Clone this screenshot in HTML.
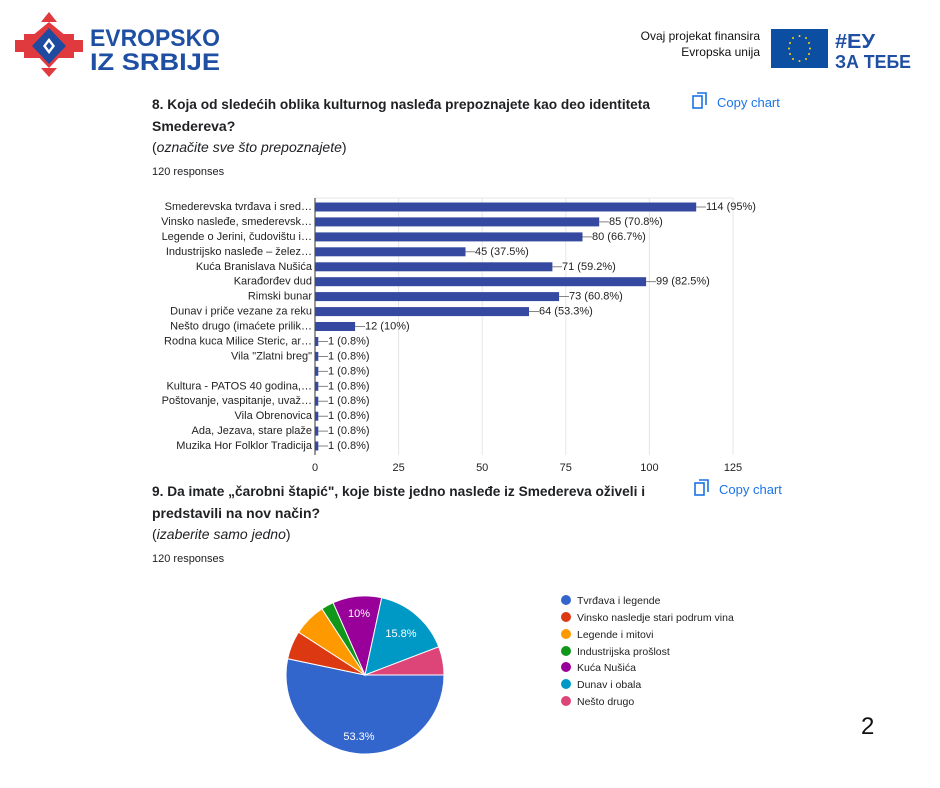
<!DOCTYPE html>
<html><head><meta charset="utf-8"><style>
html,body{margin:0;padding:0;background:#fff;}
svg{display:block;font-family:"Liberation Sans",sans-serif;}
</style></head><body>
<svg width="940" height="788" viewBox="0 0 940 788" xmlns="http://www.w3.org/2000/svg">
<g>
<polygon points="49,12 57,22 41,22" fill="#e03a3e"/>
<polygon points="49,22 66,36 49,50 32,36" fill="#e03a3e"/>
<polygon points="24,34 40,34 40,58 24,58" fill="#e03a3e"/>
<polygon points="58,34 74,34 74,58 58,58" fill="#e03a3e"/>
<polygon points="15,40 24,40 24,52 15,52" fill="#e03a3e"/>
<polygon points="74,40 83,40 83,52 74,52" fill="#e03a3e"/>
<polygon points="49,42 70,46 49,68 28,46" fill="#e03a3e"/>
<polygon points="41,68 57,68 49,77" fill="#e03a3e"/>
<polygon points="49,28 66,46 49,64 32,46" fill="#1e4aa0"/>
<polygon points="49,38 55,46 49,54 43,46" fill="#fff"/>
<polygon points="49,42 52,46 49,50 46,46" fill="#1e4aa0"/>
</g>
<text x="90" y="46" font-size="24" font-weight="bold" fill="#1f4fa3" textLength="130" lengthAdjust="spacingAndGlyphs">EVROPSKO</text>
<text x="90" y="70" font-size="24" font-weight="bold" fill="#1f4fa3" textLength="130" lengthAdjust="spacingAndGlyphs">IZ SRBIJE</text>
<text x="760" y="40" font-size="12" fill="#111" text-anchor="end">Ovaj projekat finansira</text>
<text x="760" y="56" font-size="12" fill="#111" text-anchor="end">Evropska unija</text>
<rect x="771" y="29" width="57" height="39" fill="#0b4ea2"/>
<g fill="#ffd500">
<circle cx="799.5" cy="36" r="1"/><circle cx="806" cy="38" r="1"/><circle cx="809" cy="43" r="1"/><circle cx="810" cy="48.5" r="1"/><circle cx="809" cy="54" r="1"/><circle cx="806" cy="59" r="1"/><circle cx="799.5" cy="61" r="1"/><circle cx="793" cy="59" r="1"/><circle cx="790" cy="54" r="1"/><circle cx="789" cy="48.5" r="1"/><circle cx="790" cy="43" r="1"/><circle cx="793" cy="38" r="1"/>
</g>
<text x="835" y="48" font-size="20" font-weight="bold" fill="#1f4fa3" textLength="40" lengthAdjust="spacingAndGlyphs">#EУ</text>
<text x="835" y="68" font-size="18" font-weight="bold" fill="#1f4fa3" textLength="76" lengthAdjust="spacingAndGlyphs">ЗА ТЕБЕ</text>

<text x="152" y="109" font-size="14" font-weight="bold" fill="#202124" textLength="498" lengthAdjust="spacingAndGlyphs">8. Koja od sledećih oblika kulturnog nasleđa prepoznajete kao deo identiteta</text>
<text x="152" y="131" font-size="14" font-weight="bold" fill="#202124">Smedereva?</text>
<text x="152" y="152" font-size="14" fill="#202124">(<tspan font-style="italic">označite sve što prepoznajete</tspan>)</text>
<text x="152" y="175" font-size="11" fill="#202124">120 responses</text>
<g fill="none" stroke="#1a73e8" stroke-width="1.6">
<rect x="693" y="96" width="9" height="12"/><path d="M697,93 h9 v12"/>
</g>
<text x="717" y="107" font-size="13" fill="#1a73e8">Copy chart</text>

<g stroke="#e6e6e6" stroke-width="1">
<line x1="398.6" y1="198" x2="398.6" y2="455"/>
<line x1="482.2" y1="198" x2="482.2" y2="455"/>
<line x1="565.8" y1="198" x2="565.8" y2="455"/>
<line x1="649.4" y1="198" x2="649.4" y2="455"/>
<line x1="733" y1="198" x2="733" y2="455"/>
<line x1="315" y1="198" x2="733" y2="198"/>
</g>
<line x1="315" y1="198" x2="315" y2="455" stroke="#333" stroke-width="1"/>
<g font-size="11" fill="#222" text-anchor="middle">
<text x="315" y="471">0</text><text x="398.6" y="471">25</text><text x="482.2" y="471">50</text><text x="565.8" y="471">75</text><text x="649.4" y="471">100</text><text x="733" y="471">125</text>
</g>
<g fill="#3649a0">
<rect x="315" y="202.5" width="381.2" height="9"/>
<rect x="315" y="217.4" width="284.2" height="9"/>
<rect x="315" y="232.4" width="267.5" height="9"/>
<rect x="315" y="247.3" width="150.5" height="9"/>
<rect x="315" y="262.3" width="237.4" height="9"/>
<rect x="315" y="277.2" width="331.1" height="9"/>
<rect x="315" y="292.1" width="244.1" height="9"/>
<rect x="315" y="307.1" width="214.0" height="9"/>
<rect x="315" y="322" width="40.1" height="9"/>
<rect x="315" y="337" width="3.3" height="9"/>
<rect x="315" y="351.9" width="3.3" height="9"/>
<rect x="315" y="366.8" width="3.3" height="9"/>
<rect x="315" y="381.8" width="3.3" height="9"/>
<rect x="315" y="396.7" width="3.3" height="9"/>
<rect x="315" y="411.7" width="3.3" height="9"/>
<rect x="315" y="426.6" width="3.3" height="9"/>
<rect x="315" y="441.5" width="3.3" height="9"/>
</g>
<g stroke="#666" stroke-width="0.8">
<line x1="696.2" y1="207" x2="706" y2="207"/>
<line x1="599.2" y1="221.9" x2="609" y2="221.9"/>
<line x1="582.5" y1="236.9" x2="592" y2="236.9"/>
<line x1="465.5" y1="251.8" x2="475" y2="251.8"/>
<line x1="552.4" y1="266.8" x2="562" y2="266.8"/>
<line x1="646.1" y1="281.7" x2="656" y2="281.7"/>
<line x1="559.1" y1="296.6" x2="569" y2="296.6"/>
<line x1="529" y1="311.6" x2="539" y2="311.6"/>
<line x1="355.1" y1="326.5" x2="365" y2="326.5"/>
<line x1="318.3" y1="341.5" x2="328" y2="341.5"/>
<line x1="318.3" y1="356.4" x2="328" y2="356.4"/>
<line x1="318.3" y1="371.3" x2="328" y2="371.3"/>
<line x1="318.3" y1="386.3" x2="328" y2="386.3"/>
<line x1="318.3" y1="401.2" x2="328" y2="401.2"/>
<line x1="318.3" y1="416.2" x2="328" y2="416.2"/>
<line x1="318.3" y1="431.1" x2="328" y2="431.1"/>
<line x1="318.3" y1="446" x2="328" y2="446"/>
</g>
<g font-size="11" fill="#222" dominant-baseline="central">
<text x="706" y="207">114 (95%)</text>
<text x="609" y="221.9">85 (70.8%)</text>
<text x="592" y="236.9">80 (66.7%)</text>
<text x="475" y="251.8">45 (37.5%)</text>
<text x="562" y="266.8">71 (59.2%)</text>
<text x="656" y="281.7">99 (82.5%)</text>
<text x="569" y="296.6">73 (60.8%)</text>
<text x="539" y="311.6">64 (53.3%)</text>
<text x="365" y="326.5">12 (10%)</text>
<text x="328" y="341.5">1 (0.8%)</text>
<text x="328" y="356.4">1 (0.8%)</text>
<text x="328" y="371.3">1 (0.8%)</text>
<text x="328" y="386.3">1 (0.8%)</text>
<text x="328" y="401.2">1 (0.8%)</text>
<text x="328" y="416.2">1 (0.8%)</text>
<text x="328" y="431.1">1 (0.8%)</text>
<text x="328" y="446">1 (0.8%)</text>
</g>
<g font-size="11" fill="#222" text-anchor="end" dominant-baseline="central">
<text x="312" y="207">Smederevska tvrđava i sred…</text>
<text x="312" y="221.9">Vinsko nasleđe, smederevsk…</text>
<text x="312" y="236.9">Legende o Jerini, čudovištu i…</text>
<text x="312" y="251.8">Industrijsko nasleđe – želez…</text>
<text x="312" y="266.8">Kuća Branislava Nušića</text>
<text x="312" y="281.7">Karađorđev dud</text>
<text x="312" y="296.6">Rimski bunar</text>
<text x="312" y="311.6">Dunav i priče vezane za reku</text>
<text x="312" y="326.5">Nešto drugo (imaćete prilik…</text>
<text x="312" y="341.5">Rodna kuca Milice Steric, ar…</text>
<text x="312" y="356.4">Vila "Zlatni breg"</text>
<text x="312" y="386.3">Kultura - PATOS 40 godina,…</text>
<text x="312" y="401.2">Poštovanje, vaspitanje, uvaž…</text>
<text x="312" y="416.2">Vila Obrenovica</text>
<text x="312" y="431.1">Ada, Jezava, stare plaže</text>
<text x="312" y="446">Muzika Hor Folklor Tradicija</text>
</g>

<text x="152" y="496" font-size="14" font-weight="bold" fill="#202124" textLength="493" lengthAdjust="spacingAndGlyphs">9. Da imate „čarobni štapić", koje biste jedno nasleđe iz Smedereva oživeli i</text>
<text x="152" y="518" font-size="14" font-weight="bold" fill="#202124">predstavili na nov način?</text>
<text x="152" y="539" font-size="14" fill="#202124">(<tspan font-style="italic">izaberite samo jedno</tspan>)</text>
<text x="152" y="562" font-size="11" fill="#202124">120 responses</text>
<g fill="none" stroke="#1a73e8" stroke-width="1.6">
<rect x="695" y="483" width="9" height="12"/><path d="M699,480 h9 v12"/>
</g>
<text x="719" y="494" font-size="13" fill="#1a73e8">Copy chart</text>

<g stroke="#fff" stroke-width="1">
<path d="M365,675 L444,675 A79,79 0 1 1 287.7,658.7 Z" fill="#3366cc"/>
<path d="M365,675 L287.7,658.7 A79,79 0 0 1 298.6,632.2 Z" fill="#dc3912"/>
<path d="M365,675 L298.6,632.2 A79,79 0 0 1 321.9,608.8 Z" fill="#ff9900"/>
<path d="M365,675 L321.9,608.8 A79,79 0 0 1 333.1,602.7 Z" fill="#109618"/>
<path d="M365,675 L333.1,602.7 A79,79 0 0 1 381.7,597.8 Z" fill="#990099"/>
<path d="M365,675 L381.7,597.8 A79,79 0 0 1 438.8,646.8 Z" fill="#0099c6"/>
<path d="M365,675 L438.8,646.8 A79,79 0 0 1 444,675 Z" fill="#dd4477"/>
</g>
<g font-size="11" fill="#fff" text-anchor="middle">
<text x="359" y="617">10%</text>
<text x="401" y="637">15.8%</text>
<text x="359" y="740">53.3%</text>
</g>
<g font-size="10.5" fill="#222">
<circle cx="566" cy="600" r="5" fill="#3366cc"/><text x="577" y="604">Tvrđava i legende</text>
<circle cx="566" cy="617" r="5" fill="#dc3912"/><text x="577" y="621">Vinsko nasledje stari podrum vina</text>
<circle cx="566" cy="634" r="5" fill="#ff9900"/><text x="577" y="638">Legende i mitovi</text>
<circle cx="566" cy="651" r="5" fill="#109618"/><text x="577" y="655">Industrijska prošlost</text>
<circle cx="566" cy="667" r="5" fill="#990099"/><text x="577" y="671">Kuća Nušića</text>
<circle cx="566" cy="684" r="5" fill="#0099c6"/><text x="577" y="688">Dunav i obala</text>
<circle cx="566" cy="701" r="5" fill="#dd4477"/><text x="577" y="705">Nešto drugo</text>
</g>
<text x="861" y="734" font-size="24" fill="#111">2</text>
</svg>
</body></html>
